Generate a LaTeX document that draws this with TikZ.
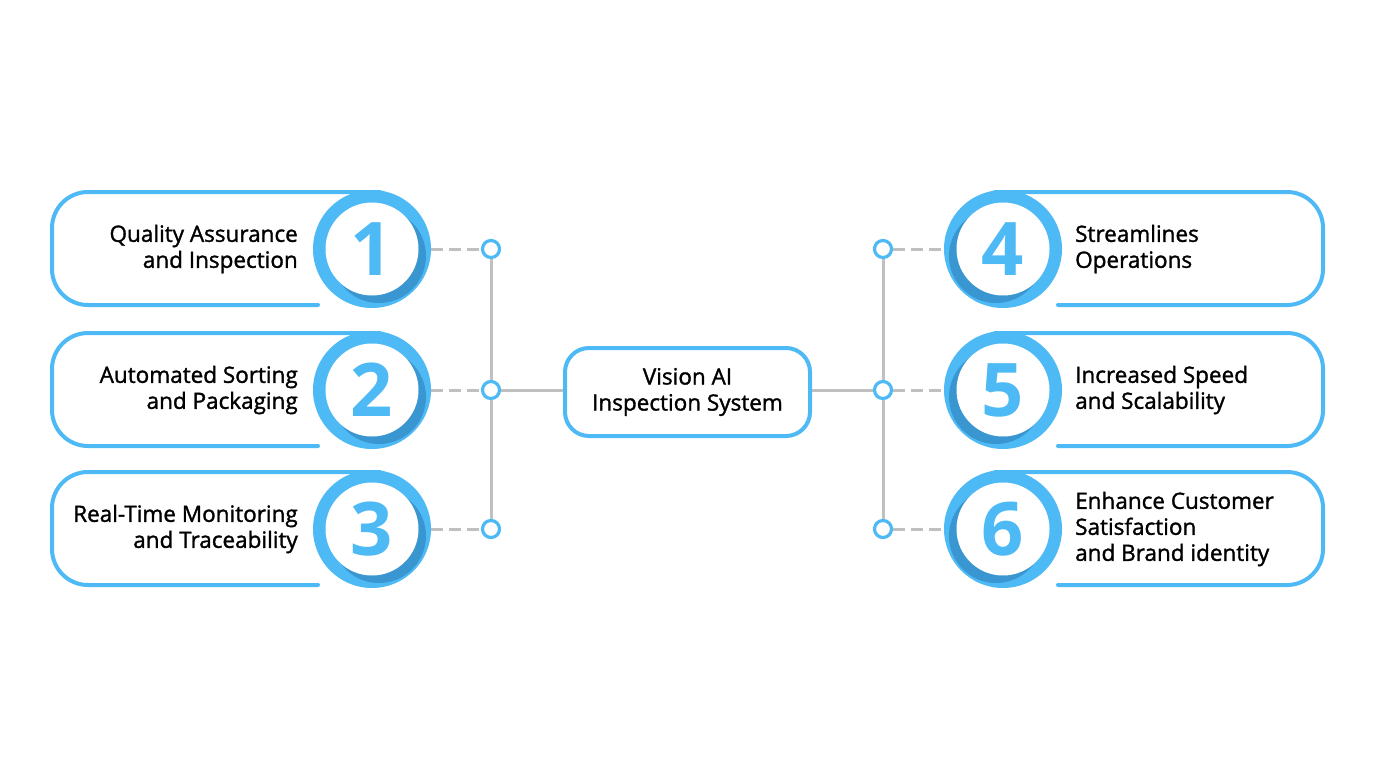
\documentclass[tikz,border=0pt]{standalone}
\usepackage{fontspec}
\setmainfont{Open Sans}[UprightFeatures={FakeBold=1.4}]
\definecolor{cblue}{RGB}{77,185,245}
\definecolor{cdark}{RGB}{58,150,208}
\definecolor{cgray}{RGB}{192,192,192}
\tikzset{
  card/.style={draw=cblue, line width=4pt, line cap=round, rounded corners=36pt},
  gline/.style={draw=cgray, line width=3pt},
  dline/.style={draw=cgray, line width=3pt, dash pattern=on 12pt off 6pt},
  smallc/.style={circle, draw=cblue, line width=3.2pt, fill=white, minimum size=17pt, inner sep=0pt},
  numtxt/.style={font=\bfseries\fontsize{74}{74}\selectfont, text=cblue, inner sep=0pt},
  ring/.style={circle, minimum size=118pt, inner sep=0pt},
  lbl/.style={font=\fontsize{22.5}{26}\selectfont, text=black, inner sep=0pt},
  cbox/.style={draw=cblue, line width=4pt, fill=white, rounded corners=24pt, minimum width=245pt, minimum height=88pt, align=center, font=\fontsize{22.5}{26}\selectfont},
}
\newcommand\LeftCard[5]{%
  \draw[card] (318,#2+56) -- (52,#2+56) -- (52,#2-57) -- (380,#2-57);
  \fill[cblue] (372,#2) circle (59pt);
  \begin{scope}\clip (372,#2) circle (59pt); \fill[cdark] (379,#2+7) circle (47pt);\end{scope}
  \fill[white] (372,#2) circle (46.5pt);
  \node[ring] (r#1) at (372,#2) {};
  \node[numtxt] (n#1) at (372,#2) {#1};
  \node[lbl, anchor=east, align=right] (t#1) at (298,#2) {#3};
}
\newcommand\RightCard[5]{%
  \draw[card] (1058,#2+56) -- (1323,#2+56) -- (1323,#2-57) -- (995,#2-57);
  \fill[cblue] (1003,#2) circle (59pt);
  \begin{scope}\clip (1003,#2) circle (59pt); \fill[cdark] (996,#2+7) circle (47pt);\end{scope}
  \fill[white] (1003,#2) circle (46.5pt);
  \node[ring] (r#1) at (1003,#2) {};
  \node[numtxt] (n#1) at (1003,#2) {#1};
  \node[lbl, anchor=west, align=left] (t#1) at (1075,#2) {#3};
}
\begin{document}
\begin{tikzpicture}[x=1pt,y=-1pt]
\useasboundingbox (0,0) rectangle (1380,776);
\fill[white] (0,0) rectangle (1380,776);

\LeftCard{1}{249}{Quality Assurance\\and Inspection}{}{}
\LeftCard{2}{390}{Automated Sorting\\and Packaging}{}{}
\LeftCard{3}{529}{Real-Time Monitoring\\and Traceability}{}{}
\RightCard{4}{249}{Streamlines\\Operations}{}{}
\RightCard{5}{390}{Increased Speed\\and Scalability}{}{}
\RightCard{6}{529}{Enhance Customer\\Satisfaction\\and Brand identity}{}{}

\node[cbox] (c) at (687.5,392) {Vision AI\\Inspection System};

\coordinate (p1) at (491,249);
\coordinate (p2) at (491,390);
\coordinate (p3) at (491,529);
\coordinate (q1) at (883,249);
\coordinate (q2) at (883,390);
\coordinate (q3) at (883,529);

\draw[gline] (p1) -- (p3);
\draw[gline] (q1) -- (q3);
\draw[gline] (p2) -- (p2 -| c.west);
\draw[gline] (q2 -| c.east) -- (q2);

\foreach \i in {1,2,3} {
  \node[smallc] (s\i) at (p\i) {};
  \draw[dline] (r\i.east) -- (s\i.west);
}
\foreach \i/\j in {1/4,2/5,3/6} {
  \node[smallc] (s\j) at (q\i) {};
  \draw[dline] (s\j.east) -- (r\j.west);
}
\end{tikzpicture}
\end{document}
